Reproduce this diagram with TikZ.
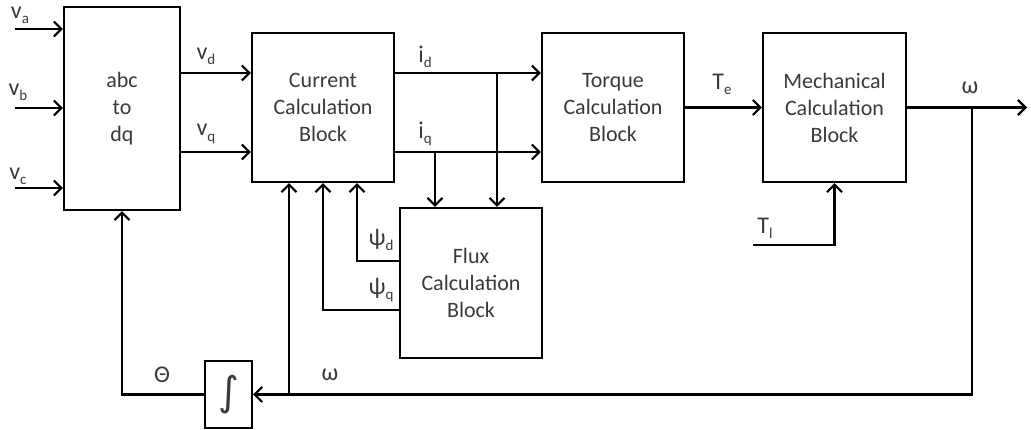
\documentclass[tikz,border=0pt]{standalone}
\usepackage{fontspec}
\setmainfont{Carlito}
\newfontfamily\djv{DejaVu Sans}
\usetikzlibrary{arrows.meta}
\newcommand\subs[1]{\raisebox{-0.45ex}{\fontsize{15}{15}\selectfont #1}}
\definecolor{txt}{HTML}{3A3A3A}
\tikzset{
  blk/.style={draw=black, line width=2.2pt, rectangle, align=center, text=txt,
    font=\fontsize{22}{27}\selectfont, inner sep=0pt},
  lbl/.style={text=txt, font=\fontsize{24}{24}\selectfont, inner sep=0pt},
  arr/.style={line width=2.2pt, -{Straight Barb[length=7.5pt,width=15pt,line width=2.2pt]}},
  ln/.style={line width=2.2pt}
}
\begin{document}
\begin{tikzpicture}[x=1pt,y=-1pt]
\useasboundingbox (0,0) rectangle (1031,429);
% blocks
\node[blk, minimum width=116pt, minimum height=203pt] (abc) at (122,108.5) {abc\\to\\dq};
\node[blk, minimum width=142pt, minimum height=149pt] (cur) at (323,107.5) {Current\\Calculation\\Block};
\node[blk, minimum width=142pt, minimum height=149pt] (torq) at (613,107.5) {Torque\\Calculation\\Block};
\node[blk, minimum width=143pt, minimum height=149pt] (mech) at (834.5,107.5) {Mechanical\\Calculation\\Block};
\node[blk, minimum width=142pt, minimum height=150pt] (flux) at (471,283) {Flux\\Calculation\\Block};
\node[blk, minimum width=47pt, minimum height=67pt] (integ) at (228.5,394.5) {\djv\fontsize{40}{40}\selectfont ∫};
% coordinates
\coordinate (va) at (15,29);
\coordinate (vb) at (15,108);
\coordinate (vc) at (15,188);
\coordinate (yd) at (0,73);
\coordinate (yq) at (0,152);
\coordinate (jq) at (435,152);
\coordinate (jd) at (497,73);
\coordinate (wout) at (1027,107.5);
\coordinate (tl) at (753,245);
\coordinate (wj) at (972,107.5);
\coordinate (wb) at (289,394.5);
\coordinate (psd) at (357,261);
\coordinate (psq) at (323,310);
% connectors
\draw[arr] (va) -- (va -| abc.west);
\draw[arr] (vb) -- (vb -| abc.west);
\draw[arr] (vc) -- (vc -| abc.west);
\draw[arr] (abc.east |- yd) -- (cur.west |- yd);
\draw[arr] (abc.east |- yq) -- (cur.west |- yq);
\draw[arr] (cur.east |- yd) -- (torq.west |- yd);
\draw[arr] (cur.east |- yq) -- (torq.west |- yq);
\draw[arr] (jq) -- (jq |- flux.north);
\draw[arr] (jd) -- (jd |- flux.north);
\draw[arr] (torq.east) -- (mech.west);
\draw[arr] (mech.east) -- (wout);
\draw[arr] (tl) -| (mech.south);
\draw[arr] (wj) |- (integ.east);
\draw[arr] (wb) -- (wb |- cur.south);
\draw[arr] (integ.west) -| (abc.south);
\draw[arr] (flux.west |- psd) -- (psd) -- (psd |- cur.south);
\draw[arr] (flux.west |- psq) -| (cur.south);
% labels
\node[lbl] (lva) at (20,15) {v\subs{a}};
\node[lbl] (lvb) at (18,92) {v\subs{b}};
\node[lbl] (lvc) at (18,176) {v\subs{c}};
\node[lbl] (lvd) at (206,56) {v\subs{d}};
\node[lbl] (lvq) at (206,134) {v\subs{q}};
\node[lbl] (lid) at (425,57) {i\subs{d}};
\node[lbl] (liq) at (425,134) {i\subs{q}};
\node[lbl] (lpd) at (381,240) {ψ\subs{d}};
\node[lbl] (lpq) at (381,290) {ψ\subs{q}};
\node[lbl] (lte) at (722,84) {T\subs{e}};
\node[lbl] (lw1) at (970,88) {ω};
\node[lbl] (ltl) at (765,228) {T\subs{l}};
\node[lbl] (lth) at (162,375) {Θ};
\node[lbl] (lw2) at (330,375) {ω};
\end{tikzpicture}
\end{document}
